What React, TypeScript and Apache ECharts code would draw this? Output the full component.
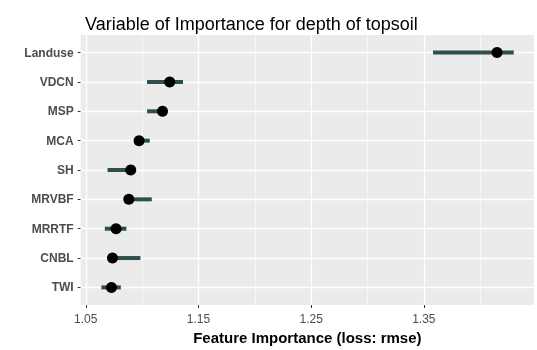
import React, { useEffect, useRef } from "react";
import * as echarts from "echarts";

// bottom to top
const categories = ["TWI", "CNBL", "MRRTF", "MRVBF", "SH", "MCA", "MSP", "VDCN", "Landuse"];
const importance = [1.0728, 1.0737, 1.0769, 1.0882, 1.0899, 1.0973, 1.1181, 1.1245, 1.415];
const lower = [1.0639, 1.0725, 1.0669, 1.087, 1.0693, 1.0963, 1.1044, 1.1044, 1.3582];
const upper = [1.0811, 1.0985, 1.0861, 1.1086, 1.0915, 1.1068, 1.12, 1.1363, 1.4298];
const xTicks = [1.05, 1.15, 1.25, 1.35];
const xMinorGrid = [1.1, 1.2, 1.3, 1.4];

export default function App() {
  const ref = useRef<HTMLDivElement>(null);
  useEffect(() => {
    if (!ref.current) return;
    const chart = echarts.init(ref.current, null, { renderer: "svg" });
    const yVals = categories.map((_, i) => i + 1);
    const gridLines: any[] = [];
    xTicks.forEach((v) => gridLines.push({ xAxis: v, lineStyle: { width: 1.3 } }));
    xMinorGrid.forEach((v) => gridLines.push({ xAxis: v, lineStyle: { width: 0.6 } }));
    yVals.forEach((v) => gridLines.push({ yAxis: v, lineStyle: { width: 1.3 } }));

    chart.setOption({
      animation: false,
      title: {
        text: "Variable of Importance for depth of topsoil",
        left: 80,
        top: 10,
        textStyle: { fontFamily: "Liberation Sans", fontSize: 18, fontWeight: "normal", color: "#000" },
      },
      grid: {
        left: 80.7,
        right: 3,
        top: 35,
        bottom: 43,
        show: true,
        backgroundColor: "#EBEBEB",
        borderWidth: 0,
      },
      xAxis: {
        type: "value",
        min: 1.0455,
        max: 1.4478,
        axisLine: { show: false },
        splitLine: { show: false },
        axisTick: { show: true, customValues: xTicks, length: 3, lineStyle: { color: "#333", width: 1 } },
        axisLabel: {
          customValues: xTicks,
          margin: 8,
          color: "#4D4D4D",
          fontFamily: "Liberation Sans",
          fontSize: 12,
          formatter: (v: number) => v.toFixed(2),
        },
        name: "Feature Importance (loss: rmse)",
        nameLocation: "middle",
        nameGap: 25,
        nameTextStyle: { fontFamily: "Liberation Sans", fontSize: 15, fontWeight: "bold", color: "#000" },
      },
      yAxis: {
        type: "value",
        min: 0.4,
        max: 9.6,
        axisLine: { show: false },
        splitLine: { show: false },
        axisTick: { show: true, customValues: yVals, length: 3, lineStyle: { color: "#333", width: 1 } },
        axisLabel: {
          customValues: yVals,
          margin: 7,
          color: "#4D4D4D",
          fontFamily: "Liberation Sans",
          fontWeight: "bold",
          fontSize: 12,
          formatter: (v: number) => categories[Math.round(v) - 1] ?? "",
        },
      },
      series: [
        {
          type: "line",
          data: [],
          z: 1,
          silent: true,
          markLine: {
            silent: true,
            z: 1,
            symbol: "none",
            label: { show: false },
            lineStyle: { color: "#FFFFFF", type: "solid", width: 1.3 },
            data: gridLines,
          },
        },
        {
          type: "custom",
          z: 3,
          data: categories.map((_, i) => [lower[i], upper[i], i + 1]),
          renderItem: (params: any, api: any) => {
            const s = api.coord([api.value(0), api.value(2)]);
            const e = api.coord([api.value(1), api.value(2)]);
            return {
              type: "line",
              shape: { x1: s[0], y1: s[1], x2: e[0], y2: e[1] },
              style: { stroke: "#2F4F4F", lineWidth: 4 },
            };
          },
        },
        {
          type: "scatter",
          z: 4,
          symbol: "circle",
          symbolSize: 11,
          itemStyle: { color: "#000", opacity: 1 },
          data: categories.map((_, i) => [importance[i], i + 1]),
        },
      ],
    });
    return () => chart.dispose();
  }, []);
  return <div ref={ref} style={{ position: "fixed", left: 0, top: 0, width: 537, height: 350 }} />;
}
